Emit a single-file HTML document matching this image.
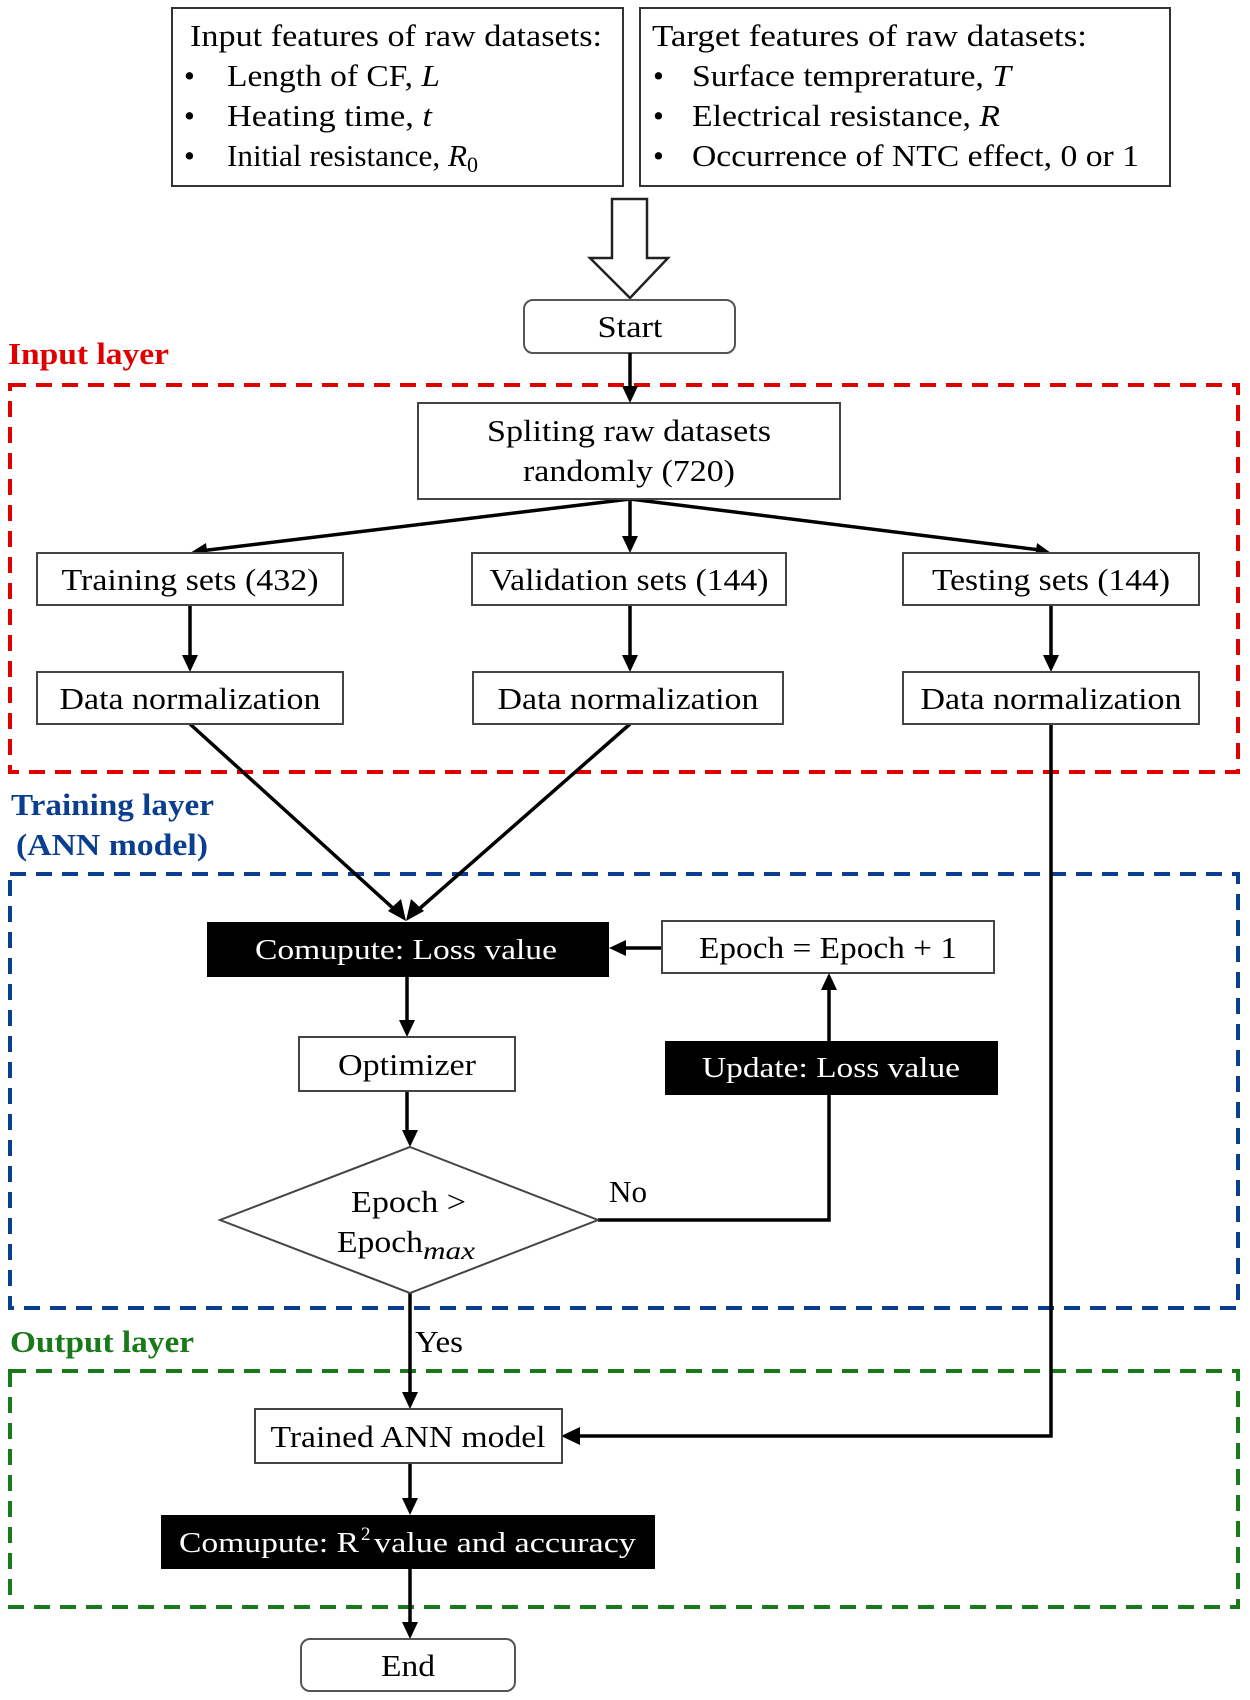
<!DOCTYPE html>
<html><head><meta charset="utf-8"><style>
html,body{margin:0;padding:0;background:#fff;}
svg{display:block;}
text{font-family:"Liberation Serif",serif;}
</style></head><body>
<svg width="1250" height="1700" viewBox="0 0 1250 1700" xmlns="http://www.w3.org/2000/svg">
<g font-size="31" fill="#000">
<!-- top boxes -->
<rect x="172" y="8" width="451" height="178" fill="#fff" stroke="#333" stroke-width="2"/>
<rect x="640" y="8" width="530" height="178" fill="#fff" stroke="#333" stroke-width="2"/>
<text x="190" y="46" textLength="412" lengthAdjust="spacingAndGlyphs">Input features of raw datasets:</text>
<text x="184" y="86">•</text><text x="227" y="86" textLength="213" lengthAdjust="spacingAndGlyphs">Length of CF, <tspan font-style="italic">L</tspan></text>
<text x="184" y="126">•</text><text x="227" y="126" textLength="205" lengthAdjust="spacingAndGlyphs">Heating time, <tspan font-style="italic">t</tspan></text>
<text x="184" y="166">•</text><text x="227" y="166" textLength="240" lengthAdjust="spacingAndGlyphs">Initial resistance, <tspan font-style="italic">R</tspan></text><text x="467" y="172" font-size="22">0</text>
<text x="652" y="46" textLength="435" lengthAdjust="spacingAndGlyphs">Target features of  raw datasets:</text>
<text x="653" y="86">•</text><text x="692" y="86" textLength="319" lengthAdjust="spacingAndGlyphs">Surface temprerature, <tspan font-style="italic">T</tspan></text>
<text x="653" y="126">•</text><text x="692" y="126" textLength="308" lengthAdjust="spacingAndGlyphs">Electrical resistance, <tspan font-style="italic">R</tspan></text>
<text x="653" y="166">•</text><text x="692" y="166" textLength="447" lengthAdjust="spacingAndGlyphs">Occurrence of NTC effect, 0 or 1</text>

<!-- hollow arrow -->
<polygon points="612,199 647,199 647,258 668,258 630,298 590,258 612,258" fill="#fff" stroke="#222" stroke-width="2.5"/>

<!-- start -->
<rect x="524" y="300" width="211" height="53" rx="9" fill="#fff" stroke="#555" stroke-width="2"/>
<text x="630" y="337" text-anchor="middle" textLength="65" lengthAdjust="spacingAndGlyphs">Start</text>

<!-- layer labels -->
<text x="8" y="364" font-weight="bold" fill="#e00000" textLength="161" lengthAdjust="spacingAndGlyphs">Input layer</text>
<text x="11" y="815" font-weight="bold" fill="#0a3f8f" textLength="203" lengthAdjust="spacingAndGlyphs">Training layer</text>
<text x="16" y="855" font-weight="bold" fill="#0a3f8f" textLength="192" lengthAdjust="spacingAndGlyphs">(ANN model)</text>
<text x="10" y="1352" font-weight="bold" fill="#1a7a1a" textLength="184" lengthAdjust="spacingAndGlyphs">Output layer</text>

<!-- dashed regions -->
<rect x="10" y="385" width="1228" height="387" fill="none" stroke="#e00000" stroke-width="4" stroke-dasharray="16,10"/>
<rect x="10" y="874" width="1228" height="434" fill="none" stroke="#0a3f8f" stroke-width="4" stroke-dasharray="16,10"/>
<rect x="10" y="1371" width="1228" height="236" fill="none" stroke="#1a7a1a" stroke-width="4" stroke-dasharray="16,10"/>

<!-- connectors -->
<g stroke="#000" stroke-width="3.5" fill="none">
<line x1="630" y1="353" x2="630" y2="390"/>
<line x1="630" y1="499" x2="200" y2="551"/>
<line x1="630" y1="499" x2="630" y2="540"/>
<line x1="630" y1="499" x2="1040" y2="550"/>
<line x1="190" y1="605" x2="190" y2="658"/>
<line x1="630" y1="605" x2="630" y2="658"/>
<line x1="1051" y1="605" x2="1051" y2="658"/>
<line x1="190" y1="724" x2="395" y2="910"/>
<line x1="630" y1="724" x2="418" y2="910"/>
<polyline points="1051,724 1051,1436 578,1436"/>
<line x1="661" y1="948" x2="624" y2="948"/>
<line x1="407" y1="976" x2="407" y2="1024"/>
<line x1="407" y1="1091" x2="407" y2="1134"/>
<polyline points="598,1220 829,1220 829,1095"/>
<line x1="829" y1="1041" x2="829" y2="988"/>
<line x1="410" y1="1293" x2="410" y2="1396"/>
<line x1="410" y1="1463" x2="410" y2="1502"/>
<line x1="410" y1="1569" x2="410" y2="1626"/>
</g>
<g fill="#000">
<polygon points="630,403 622,386 638,386"/>
<polygon points="190,553 206,543 208,558"/>
<polygon points="630,553 622,536 638,536"/>
<polygon points="1051,553 1035,558 1037,543"/>
<polygon points="190,672 182,655 198,655"/>
<polygon points="630,672 622,655 638,655"/>
<polygon points="1051,672 1043,655 1059,655"/>
<polygon points="406,921 388,911 401,899"/>
<polygon points="406,921 411,899 424,911"/>
<polygon points="561,1436 580,1427 580,1445"/>
<polygon points="609,948 626,940 626,956"/>
<polygon points="407,1037 399,1020 415,1020"/>
<polygon points="410,1147 402,1130 418,1130"/>
<polygon points="829,973 821,990 837,990"/>
<polygon points="410,1409 402,1392 418,1392"/>
<polygon points="410,1515 402,1498 418,1498"/>
<polygon points="410,1639 402,1622 418,1622"/>
</g>

<!-- split box -->
<rect x="418" y="403" width="422" height="96" fill="#fff" stroke="#444" stroke-width="2"/>
<text x="629" y="441" text-anchor="middle" textLength="284" lengthAdjust="spacingAndGlyphs">Spliting raw datasets</text>
<text x="629" y="481" text-anchor="middle" textLength="212" lengthAdjust="spacingAndGlyphs">randomly (720)</text>

<!-- sets -->
<rect x="37" y="553" width="306" height="52" fill="#fff" stroke="#444" stroke-width="2"/>
<text x="190" y="590" text-anchor="middle" textLength="257" lengthAdjust="spacingAndGlyphs">Training sets (432)</text>
<rect x="472" y="553" width="314" height="52" fill="#fff" stroke="#444" stroke-width="2"/>
<text x="629" y="590" text-anchor="middle" textLength="279" lengthAdjust="spacingAndGlyphs">Validation sets (144)</text>
<rect x="903" y="553" width="296" height="52" fill="#fff" stroke="#444" stroke-width="2"/>
<text x="1051" y="590" text-anchor="middle" textLength="238" lengthAdjust="spacingAndGlyphs">Testing sets (144)</text>

<rect x="37" y="672" width="306" height="52" fill="#fff" stroke="#444" stroke-width="2"/>
<text x="190" y="709" text-anchor="middle" textLength="261" lengthAdjust="spacingAndGlyphs">Data normalization</text>
<rect x="473" y="672" width="310" height="52" fill="#fff" stroke="#444" stroke-width="2"/>
<text x="628" y="709" text-anchor="middle" textLength="261" lengthAdjust="spacingAndGlyphs">Data normalization</text>
<rect x="903" y="672" width="296" height="52" fill="#fff" stroke="#444" stroke-width="2"/>
<text x="1051" y="709" text-anchor="middle" textLength="261" lengthAdjust="spacingAndGlyphs">Data normalization</text>

<!-- training layer -->
<rect x="207" y="922" width="402" height="55" fill="#000"/>
<text x="406" y="959" text-anchor="middle" fill="#fff" font-size="29" textLength="302" lengthAdjust="spacingAndGlyphs">Comupute: Loss value</text>
<rect x="662" y="921" width="332" height="52" fill="#fff" stroke="#444" stroke-width="2"/>
<text x="828" y="958" text-anchor="middle" textLength="258" lengthAdjust="spacingAndGlyphs">Epoch = Epoch + 1</text>
<rect x="299" y="1037" width="216" height="54" fill="#fff" stroke="#444" stroke-width="2"/>
<text x="407" y="1075" text-anchor="middle" textLength="138" lengthAdjust="spacingAndGlyphs">Optimizer</text>
<rect x="665" y="1041" width="333" height="54" fill="#000"/>
<text x="831" y="1077" text-anchor="middle" fill="#fff" font-size="29" textLength="258" lengthAdjust="spacingAndGlyphs">Update: Loss value</text>
<polygon points="410,1147 598,1220 410,1293 220,1220" fill="#fff" stroke="#444" stroke-width="2"/>
<text x="351" y="1212" textLength="115" lengthAdjust="spacingAndGlyphs">Epoch &gt;</text>
<text x="337" y="1252" textLength="86" lengthAdjust="spacingAndGlyphs">Epoch</text>
<text x="423" y="1259" font-style="italic" font-size="25" textLength="52" lengthAdjust="spacingAndGlyphs">max</text>
<text x="609" y="1202" textLength="38" lengthAdjust="spacingAndGlyphs">No</text>
<text x="415" y="1352" textLength="48" lengthAdjust="spacingAndGlyphs">Yes</text>

<!-- output layer -->
<rect x="255" y="1409" width="307" height="54" fill="#000" fill-opacity="0"/>
<rect x="255" y="1409" width="307" height="54" fill="#fff" stroke="#444" stroke-width="2"/>
<text x="408" y="1447" text-anchor="middle" textLength="275" lengthAdjust="spacingAndGlyphs">Trained ANN model</text>
<rect x="161" y="1515" width="494" height="54" fill="#000"/>
<text x="179" y="1552" fill="#fff" font-size="29" textLength="180" lengthAdjust="spacingAndGlyphs">Comupute: R</text>
<text x="361" y="1540" fill="#fff" font-size="19">2</text>
<text x="374" y="1552" fill="#fff" font-size="29" textLength="262" lengthAdjust="spacingAndGlyphs">value and accuracy</text>
<rect x="301" y="1639" width="214" height="52" rx="9" fill="#fff" stroke="#555" stroke-width="2"/>
<text x="408" y="1676" text-anchor="middle" textLength="54" lengthAdjust="spacingAndGlyphs">End</text>
</g>
</svg>
</body></html>
